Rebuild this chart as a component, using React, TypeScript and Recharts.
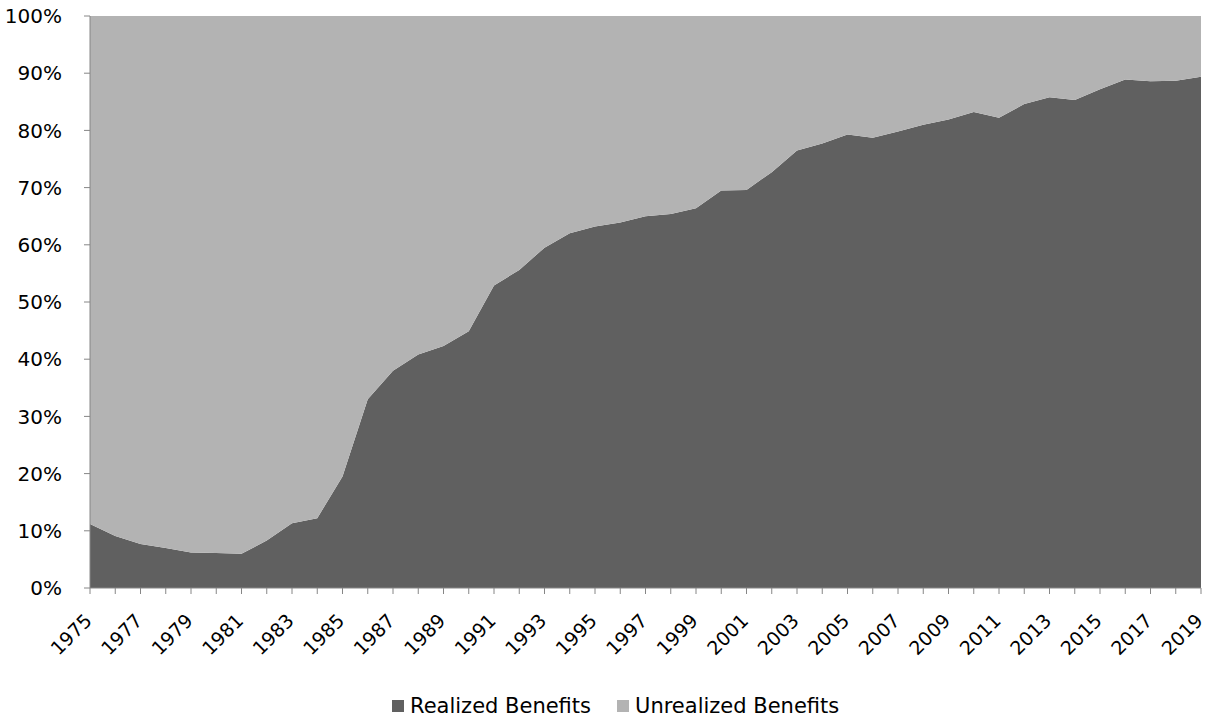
import React from 'react';
import { AreaChart, Area, XAxis, YAxis, Legend } from 'recharts';

const years = [
  1975, 1976, 1977, 1978, 1979, 1980, 1981, 1982, 1983, 1984, 1985, 1986, 1987, 1988, 1989,
  1990, 1991, 1992, 1993, 1994, 1995, 1996, 1997, 1998, 1999, 2000, 2001, 2002, 2003, 2004,
  2005, 2006, 2007, 2008, 2009, 2010, 2011, 2012, 2013, 2014, 2015, 2016, 2017, 2018, 2019,
];

// share of realized benefits, in percent
const realized = [
  11.2, 9.1, 7.7, 7.0, 6.2, 6.1, 6.0, 8.3, 11.3, 12.2, 19.5, 33.0, 38.0, 40.8, 42.3,
  44.9, 52.9, 55.6, 59.5, 62.0, 63.2, 63.9, 65.0, 65.4, 66.4, 69.5, 69.6, 72.7, 76.5, 77.7,
  79.3, 78.7, 79.8, 81.0, 81.9, 83.2, 82.2, 84.6, 85.8, 85.3, 87.2, 88.9, 88.6, 88.7, 89.4,
];

const yTicks = [0, 10, 20, 30, 40, 50, 60, 70, 80, 90, 100];

const data = years.map((year, i) => ({
  year: String(year),
  realized: realized[i],
  unrealized: +(100 - realized[i]).toFixed(1),
}));

const FONT = "'DejaVu Sans', sans-serif";
const DARK = '#606060';
const LIGHT = '#b3b3b3';
const AXIS = '#868686';

const YearTick = ({ x, y, payload, index }: any) => {
  if (index % 2 !== 0) return null;
  return (
    <g transform={`translate(${x + 3},${y + 26})`}>
      <text
        x={0}
        y={0}
        textAnchor="end"
        transform="rotate(-45)"
        fill="#000"
        fontSize={19}
        fontFamily={FONT}
      >
        {payload.value}
      </text>
    </g>
  );
};

const LegendBox = () => (
  <div
    style={{
      display: 'flex',
      alignItems: 'center',
      height: 24,
      paddingLeft: 392,
      fontFamily: FONT,
      fontSize: 21,
      color: '#000',
      whiteSpace: 'nowrap',
    }}
  >
    <span style={{ display: 'inline-block', width: 12, height: 12, background: DARK, marginRight: 6 }} />
    <span style={{ marginRight: 26 }}>Realized Benefits</span>
    <span style={{ display: 'inline-block', width: 12, height: 12, background: LIGHT, marginRight: 6 }} />
    <span>Unrealized Benefits</span>
  </div>
);

export default function App() {
  return (
    <div style={{ position: 'absolute', left: 0, top: 0, width: 1211, height: 721 }}>
      <AreaChart
        width={1211}
        height={721}
        data={data}
        margin={{ top: 16, right: 10, left: 0, bottom: 3 }}
      >
        <XAxis
          dataKey="year"
          interval={0}
          tick={<YearTick />}
          tickSize={6}
          height={106}
          stroke={AXIS}
          tickLine={{ stroke: AXIS }}
        />
        <YAxis
          width={90}
          domain={[0, 100]}
          ticks={yTicks}
          tickFormatter={(v) => `${v}%`}
          tickSize={6}
          tickMargin={22}
          stroke={AXIS}
          tick={{ fill: '#000', fontSize: 20, fontFamily: FONT }}
        />
        <Legend verticalAlign="bottom" content={<LegendBox />} />
        <Area
          type="linear"
          dataKey="realized"
          stackId="a"
          stroke="none"
          fill={DARK}
          fillOpacity={1}
          isAnimationActive={false}
        />
        <Area
          type="linear"
          dataKey="unrealized"
          stackId="a"
          stroke="none"
          fill={LIGHT}
          fillOpacity={1}
          isAnimationActive={false}
        />
      </AreaChart>
    </div>
  );
}
